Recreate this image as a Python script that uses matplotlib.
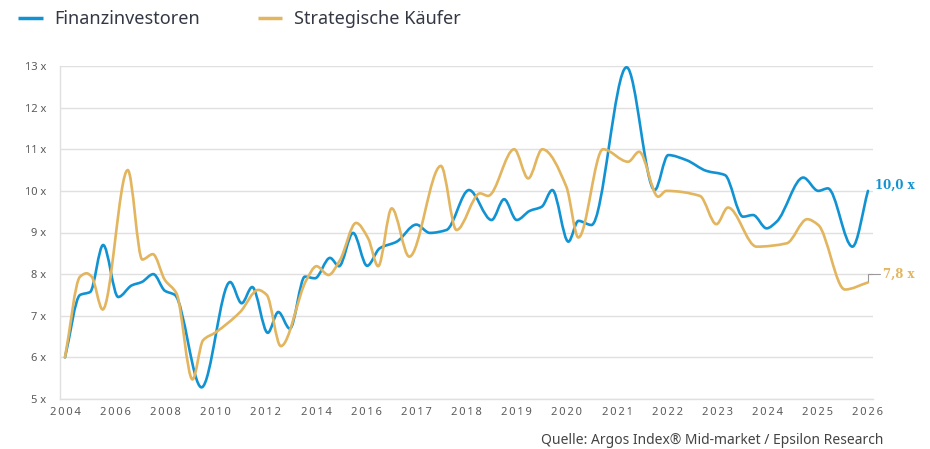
import numpy as np
import matplotlib
matplotlib.use("Agg")
import matplotlib.pyplot as plt
from matplotlib.path import Path
from matplotlib.patches import PathPatch

# --- data --------------------------------------------------------------------
tick_years = [2004, 2006, 2008, 2010, 2012, 2014, 2016, 2017, 2018, 2019,
              2020, 2021, 2022, 2023, 2024, 2025, 2026]
y_ticks = [5, 6, 7, 8, 9, 10, 11, 12, 13]

fin_years = [2004.0, 2004.6, 2005.0, 2005.52, 2006.12, 2006.66, 2007.06, 2007.52,
             2007.98, 2008.38, 2009.44, 2010.58, 2011.04, 2011.46, 2012.08, 2012.5,
             2012.96, 2013.56, 2013.96, 2014.56, 2014.92, 2015.48, 2016.02, 2016.27,
             2016.61, 2017.0, 2017.27, 2017.6, 2018.05, 2018.5, 2018.75, 2019.0,
             2019.26, 2019.5, 2019.71, 2020.03, 2020.23, 2020.49, 2021.19, 2021.75,
             2022.02, 2022.38, 2022.78, 2023.15, 2023.51, 2023.71, 2023.98, 2024.18,
             2024.71, 2025.01, 2025.2, 2025.69, 2026.0]
fin_vals = [6.0, 7.5, 7.57, 8.7, 7.45, 7.73, 7.81, 8.0,
            7.6, 7.5, 5.28, 7.81, 7.30, 7.69, 6.59, 7.09,
            6.69, 7.94, 7.9, 8.39, 8.19, 8.99, 8.2, 8.62,
            8.78, 9.19, 8.99, 9.06, 10.02, 9.30, 9.80, 9.30,
            9.52, 9.62, 10.02, 8.78, 9.28, 9.18, 12.97, 10.02,
            10.86, 10.74, 10.48, 10.38, 9.38, 9.42, 9.10, 9.26,
            10.32, 10.0, 10.06, 8.66, 10.0]

strat_years = [2004.0, 2004.6, 2004.86, 2005.06, 2005.5, 2006.5, 2007.08, 2007.5,
               2007.98, 2008.44, 2009.08, 2009.5, 2010.0, 2010.98, 2011.7, 2012.04,
               2012.6, 2013.62, 2014.02, 2014.5, 2014.96, 2015.6, 2016.04, 2016.24,
               2016.51, 2016.86, 2017.49, 2017.8, 2018.27, 2018.43, 2018.95, 2019.23,
               2019.51, 2019.99, 2020.23, 2020.72, 2021.22, 2021.44, 2021.82, 2021.98,
               2022.65, 2022.98, 2023.21, 2023.78, 2024.38, 2024.79, 2025.01, 2025.54,
               2026.0]
strat_vals = [6.0, 7.94, 8.02, 7.94, 7.15, 10.5, 8.35, 8.48,
              7.86, 7.54, 5.47, 6.41, 6.6, 7.09, 7.62, 7.5,
              6.27, 7.86, 8.19, 7.98, 8.34, 9.23, 8.86, 8.19,
              9.58, 8.42, 10.6, 9.06, 9.94, 9.88, 11.0, 10.3,
              11.0, 10.1, 8.88, 11.0, 10.70, 10.94, 9.86, 10.0,
              9.88, 9.2, 9.6, 8.66, 8.74, 9.32, 9.18, 7.63,
              7.8]

BLUE = "#1193d3"
GOLD = "#e2b55e"
GRID = "#e0e0e0"
TXT = "#5a5a5a"

plt.rcParams["font.family"] = ["Noto Sans", "DejaVu Sans"]

# piecewise axis: two years per tick up to 2016, one year per tick after
tick_pos = np.arange(len(tick_years), dtype=float)


def fwd(x):
    x = np.asarray(x, dtype=float)
    return np.interp(x, tick_years, tick_pos) + \
        np.where(x < tick_years[0], (x - tick_years[0]) / 2, 0) + \
        np.where(x > tick_years[-1], x - tick_years[-1], 0)


def inv(u):
    u = np.asarray(u, dtype=float)
    return np.interp(u, tick_pos, tick_years) + \
        np.where(u < 0, u * 2, 0) + np.where(u > tick_pos[-1], u - tick_pos[-1], 0)


def smooth_path(xs, ys):
    """monotone cubic through the points, drawn as bezier segments"""
    u = fwd(xs)
    y = np.asarray(ys, float)
    h = np.diff(u)
    d = np.diff(y) / h
    m = np.zeros_like(y)
    m[0], m[-1] = d[0], d[-1]
    for i in range(1, len(y) - 1):
        if d[i - 1] * d[i] > 0:
            w1 = 2 * h[i] + h[i - 1]
            w2 = h[i] + 2 * h[i - 1]
            m[i] = (w1 + w2) / (w1 / d[i - 1] + w2 / d[i])
    verts = [(u[0], y[0])]
    codes = [Path.MOVETO]
    for i in range(len(h)):
        verts += [(u[i] + h[i] / 3, y[i] + m[i] * h[i] / 3),
                  (u[i + 1] - h[i] / 3, y[i + 1] - m[i + 1] * h[i] / 3),
                  (u[i + 1], y[i + 1])]
        codes += [Path.CURVE4] * 3
    verts = np.array(verts)
    verts[:, 0] = inv(verts[:, 0])
    return Path(verts, codes)


fig = plt.figure(figsize=(9.3, 4.49), dpi=100)
ax = fig.add_axes([60 / 930, 1 - 399 / 449, 813 / 930, 333 / 449])
ax.set_xscale("function", functions=(fwd, inv))

for xs, ys, col in [(fin_years, fin_vals, BLUE), (strat_years, strat_vals, GOLD)]:
    ax.add_patch(PathPatch(smooth_path(xs, ys), facecolor="none", edgecolor=col,
                           lw=1.9, capstyle="round", joinstyle="round", zorder=3))

ax.set_xlim(inv(-0.1), inv(16.1))
ax.set_ylim(5, 13)
ax.set_yticks(y_ticks)
ax.set_yticklabels([f"{v} x" for v in y_ticks], fontsize=8, color=TXT)
ax.set_xticks(tick_years)
ax.set_xticklabels(["\u2009".join(str(t)) for t in tick_years], fontsize=8, color=TXT)
ax.tick_params(length=0)
ax.tick_params(axis="y", pad=10)
ax.tick_params(axis="x", pad=6)
ax.minorticks_off()
ax.grid(axis="y", color=GRID, lw=1)
ax.set_axisbelow(True)
for s in ("top", "right"):
    ax.spines[s].set_visible(False)
for s in ("left", "bottom"):
    ax.spines[s].set_color(GRID)
    ax.spines[s].set_linewidth(1)

# end labels
ax.annotate("10,0 x", xy=(fin_years[-1], fin_vals[-1]), xytext=(5, 4),
            textcoords="offset points", color=BLUE, fontsize=8.5, fontweight="bold",
            family="DejaVu Serif", va="center", ha="left")
ax.annotate("7,8 x", xy=(strat_years[-1], strat_vals[-1]), xytext=(11, 6),
            textcoords="offset points", color=GOLD, fontsize=8.5, fontweight="bold",
            family="DejaVu Serif", va="center", ha="left",
            arrowprops=dict(arrowstyle="-", color="#999999", lw=0.8,
                            connectionstyle="angle,angleA=0,angleB=90,rad=0",
                            shrinkA=0, shrinkB=1))

# legend
handles = [plt.Line2D([], [], color=BLUE, lw=2.5, solid_capstyle="butt"),
           plt.Line2D([], [], color=GOLD, lw=2.5, solid_capstyle="butt")]
leg = fig.legend(handles, ["Finanzinvestoren", "Strategische Käufer"], loc="upper left",
                 bbox_to_anchor=(2 / 930, 1 + 6 / 449), ncol=2, frameon=False, fontsize=13,
                 handlelength=1.35, handletextpad=0.65, columnspacing=3.2)
for t in leg.get_texts():
    t.set_color("#333844")

fig.text(883 / 930, 1 - 440 / 449,
         "Quelle: Argos Index® Mid-market / Epsilon Research",
         ha="right", va="center", fontsize=10, color="#444444")

fig.savefig("out.png", dpi=100)
